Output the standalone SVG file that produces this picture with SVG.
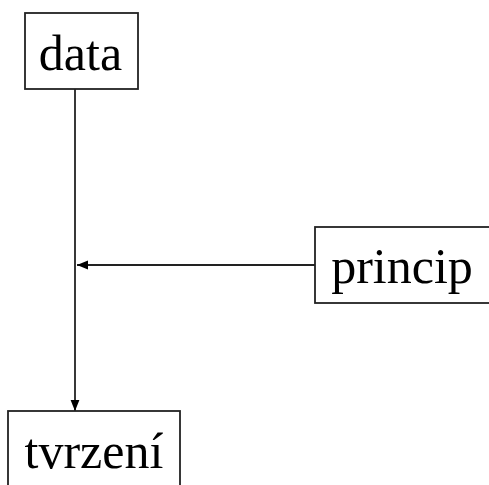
<svg xmlns="http://www.w3.org/2000/svg" width="489" height="485" viewBox="0 0 489 485">
<style>
.box{fill:#fff;stroke:#222;stroke-width:1.8}
.lbl{font-family:"Liberation Serif","Times New Roman",serif;font-size:50px;fill:#000;text-anchor:middle}
.edge{stroke:#222;stroke-width:1.8;fill:none}
</style>
<defs>
<marker id="ah" viewBox="0 0 10 10" refX="10" refY="5" markerWidth="11" markerHeight="11" markerUnits="userSpaceOnUse" orient="auto">
<path d="M0,1 L10,5 L0,9 Z" fill="#000"/>
</marker>
</defs>
<g id="connectors">
<line class="edge" x1="75" y1="89" x2="75" y2="411" marker-end="url(#ah)"/>
<line class="edge" x1="315" y1="265" x2="77" y2="265" marker-end="url(#ah)"/>
</g>
<g id="node-data">
<rect class="box" x="25" y="13" width="113" height="76"/>
<text class="lbl" x="80.5" y="70">data</text>
</g>
<g id="node-princip">
<rect class="box" x="315" y="227" width="180" height="76"/>
<text class="lbl" x="402" y="283">princip</text>
</g>
<g id="node-tvrzeni">
<rect class="box" x="8" y="411" width="172" height="80"/>
<text class="lbl" x="94" y="468">tvrzení</text>
</g>
</svg>
